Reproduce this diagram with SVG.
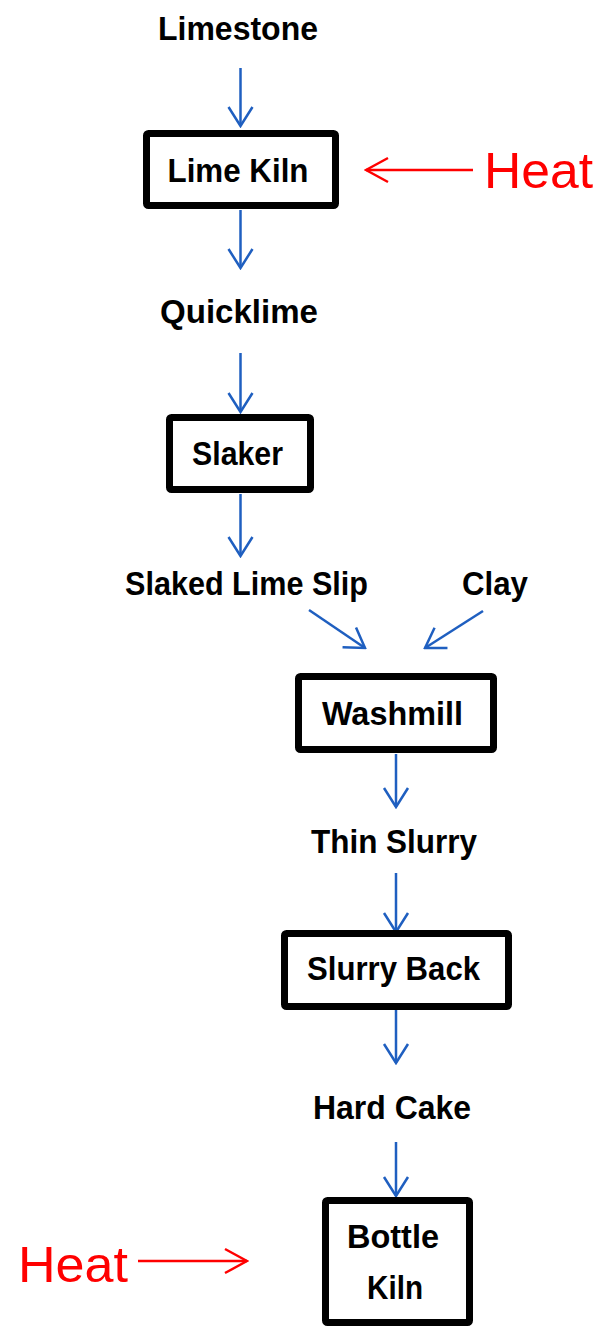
<svg xmlns="http://www.w3.org/2000/svg" width="609" height="1344" viewBox="0 0 609 1344">
<style>
.lbl{font-family:"Liberation Sans",Arial,sans-serif;font-weight:bold;font-size:33px;fill:#000;text-anchor:middle}
.heat{font-family:"Liberation Sans",Arial,sans-serif;font-size:50px;fill:#ff0000}
.box{fill:#fff;stroke:#000;stroke-width:7}
.flow{stroke:#1f5fc0;stroke-width:2.5;fill:none;marker-end:url(#ab)}
.hflow{stroke:#ff0000;stroke-width:2.5;fill:none;marker-end:url(#ar)}
</style>
<defs>
<marker id="ab" markerUnits="userSpaceOnUse" viewBox="-24 -15 26 30" markerWidth="26" markerHeight="30" refX="0" refY="0" orient="auto">
<path d="M-19,-12 L0,0 L-19,12" fill="none" stroke="#1f5fc0" stroke-width="2.5"/>
</marker>
<marker id="ar" markerUnits="userSpaceOnUse" viewBox="-26 -15 28 30" markerWidth="28" markerHeight="30" refX="0" refY="0" orient="auto">
<path d="M-22,-12 L0,0 L-22,12" fill="none" stroke="#ff0000" stroke-width="2.5"/>
</marker>
</defs>
<rect width="609" height="1344" fill="#fff"/>
<g id="connectors">
<line class="flow" x1="240.5" y1="68" x2="240.5" y2="126"/>
<line class="flow" x1="240.5" y1="210" x2="240.5" y2="268"/>
<line class="flow" x1="240.5" y1="353" x2="240.5" y2="412"/>
<line class="flow" x1="240.5" y1="494" x2="240.5" y2="556"/>
<line class="flow" x1="309" y1="610" x2="365" y2="648"/>
<line class="flow" x1="483" y1="611" x2="425" y2="648"/>
<line class="flow" x1="396" y1="754" x2="396" y2="807"/>
<line class="flow" x1="396" y1="873" x2="396" y2="932"/>
<line class="flow" x1="396" y1="1010" x2="396" y2="1063"/>
<line class="flow" x1="396" y1="1142" x2="396" y2="1196"/>
<line class="hflow" x1="473" y1="170" x2="366" y2="170"/>
<line class="hflow" x1="138" y1="1261" x2="247" y2="1261"/>
</g>
<g id="limestone"><text class="lbl" x="238" y="40" textLength="160" lengthAdjust="spacingAndGlyphs">Limestone</text></g>
<g id="lime-kiln"><rect class="box" x="146.5" y="133.5" width="189" height="72" rx="2"/><text class="lbl" x="238" y="182" textLength="141" lengthAdjust="spacingAndGlyphs">Lime Kiln</text></g>
<g id="heat-top"><text class="heat" x="484" y="188" textLength="109" lengthAdjust="spacingAndGlyphs">Heat</text></g>
<g id="quicklime"><text class="lbl" x="239" y="323" textLength="158" lengthAdjust="spacingAndGlyphs">Quicklime</text></g>
<g id="slaker"><rect class="box" x="169.5" y="417.5" width="141" height="72" rx="2"/><text class="lbl" x="237.5" y="465" textLength="91" lengthAdjust="spacingAndGlyphs">Slaker</text></g>
<g id="slaked-lime-slip"><text class="lbl" x="246.5" y="595" textLength="243" lengthAdjust="spacingAndGlyphs">Slaked Lime Slip</text></g>
<g id="clay"><text class="lbl" x="495" y="595" textLength="66" lengthAdjust="spacingAndGlyphs">Clay</text></g>
<g id="washmill"><rect class="box" x="298.5" y="676.5" width="195" height="73" rx="2"/><text class="lbl" x="392.5" y="725" textLength="141" lengthAdjust="spacingAndGlyphs">Washmill</text></g>
<g id="thin-slurry"><text class="lbl" x="394" y="853" textLength="166" lengthAdjust="spacingAndGlyphs">Thin Slurry</text></g>
<g id="slurry-back"><rect class="box" x="284.5" y="933.5" width="224" height="73" rx="2"/><text class="lbl" x="393.5" y="980" textLength="173" lengthAdjust="spacingAndGlyphs">Slurry Back</text></g>
<g id="hard-cake"><text class="lbl" x="392" y="1119" textLength="158" lengthAdjust="spacingAndGlyphs">Hard Cake</text></g>
<g id="bottle-kiln"><rect class="box" x="325.5" y="1200.5" width="144" height="122" rx="2"/><text class="lbl" x="393" y="1248" textLength="92" lengthAdjust="spacingAndGlyphs">Bottle</text><text class="lbl" x="395" y="1299" textLength="56" lengthAdjust="spacingAndGlyphs">Kiln</text></g>
<g id="heat-bottom"><text class="heat" x="18" y="1282" textLength="110" lengthAdjust="spacingAndGlyphs">Heat</text></g>
</svg>
